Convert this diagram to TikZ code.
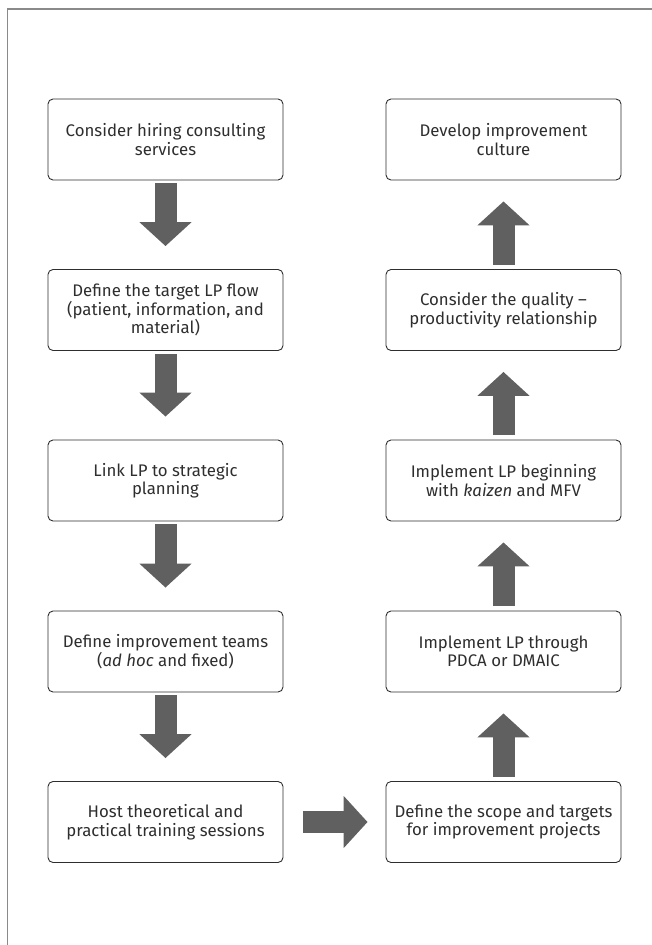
\documentclass[tikz,border=0pt]{standalone}
\usepackage{fontspec}
\setmainfont{Fira Sans}
\usetikzlibrary{arrows.meta,positioning}
\definecolor{framegray}{HTML}{8A8A8A}
\definecolor{arrowgray}{HTML}{606060}
\definecolor{textgray}{HTML}{2E2E2E}

\tikzset{
  stepbox/.style={draw=textgray, line width=0.9pt, rounded corners=5pt,
    minimum width=235pt, minimum height=81pt, align=center,
    text=textgray, font=\fontsize{16.8}{18.5}\selectfont},
  blockarrow/.style={arrowgray, line width=22pt,
    -{Triangle[length=24pt, width=51pt]}}
}

\begin{document}
\begin{tikzpicture}[x=1pt, y=-1pt]
  \useasboundingbox (0,0) rectangle (652,945);
  % frame: only top and left edges
  \draw[framegray, line width=1.5pt] (652,9) -- (7.5,9) -- (7.5,945);
  % left column, top to bottom
  \node[stepbox] (c1) at (165.5,139.5) {Consider hiring consulting\\services};
  \node[stepbox] (c2) at (165.5,310) {Define the target LP flow\\(patient, information, and\\material)};
  \node[stepbox] (c3) at (165.5,480.5) {Link LP to strategic\\planning};
  \node[stepbox] (c4) at (165.5,651.5) {Define improvement teams\\(\textit{ad hoc} and fixed)};
  \node[stepbox] (c5) at (165.5,822) {Host theoretical and\\practical training sessions};
  % right column, bottom to top
  \node[stepbox] (r5) at (503.5,822) {Define the scope and targets\\for improvement projects};
  \node[stepbox] (r4) at (503.5,651.5) {Implement LP through\\PDCA or DMAIC};
  \node[stepbox] (r3) at (503.5,480.5) {Implement LP beginning\\with \textit{kaizen} and MFV};
  \node[stepbox] (r2) at (503.5,310) {Consider the quality --\\productivity relationship};
  \node[stepbox] (r1) at (503.5,139.5) {Develop improvement\\culture};
  % arrows down
  \draw[blockarrow, shorten <=3pt, shorten >=23pt] (c1) -- (c2);
  \draw[blockarrow, shorten <=3pt, shorten >=23pt] (c2) -- (c3);
  \draw[blockarrow, shorten <=3pt, shorten >=23pt] (c3) -- (c4);
  \draw[blockarrow, shorten <=3pt, shorten >=23pt] (c4) -- (c5);
  % across
  \draw[blockarrow, shorten <=20pt, shorten >=18pt] (c5) -- (r5);
  % arrows up
  \draw[blockarrow, shorten <=4.5pt, shorten >=21pt] (r5) -- (r4);
  \draw[blockarrow, shorten <=4.5pt, shorten >=21pt] (r4) -- (r3);
  \draw[blockarrow, shorten <=4.5pt, shorten >=21pt] (r3) -- (r2);
  \draw[blockarrow, shorten <=4.5pt, shorten >=21pt] (r2) -- (r1);
\end{tikzpicture}
\end{document}
